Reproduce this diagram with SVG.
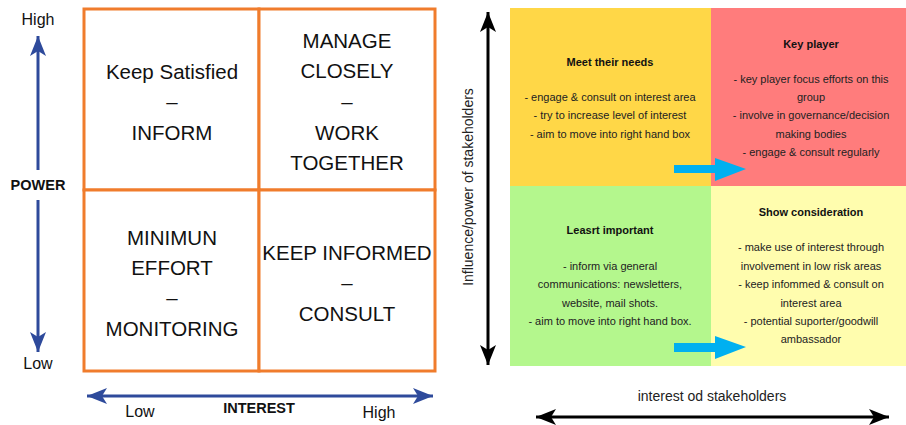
<svg xmlns="http://www.w3.org/2000/svg" width="906" height="425" viewBox="0 0 906 425">
<style>
.q{fill:#fff;stroke:#F07C2C;stroke-width:3}
.big{font-family:"Liberation Sans",Arial,sans-serif;font-size:20.5px;fill:#111;text-anchor:middle}
.ax{font-family:"Liberation Sans",Arial,sans-serif;font-size:16px;fill:#111;text-anchor:middle}
.axb{font-family:"Liberation Sans",Arial,sans-serif;font-size:14.5px;font-weight:bold;fill:#111;text-anchor:middle}
.sm{font-family:"Liberation Sans",Arial,sans-serif;font-size:11px;fill:#222;text-anchor:middle}
.smb{font-family:"Liberation Sans",Arial,sans-serif;font-size:11px;font-weight:bold;fill:#111;text-anchor:middle}
.lb{font-family:"Liberation Sans",Arial,sans-serif;font-size:14px;fill:#222;text-anchor:middle}
.blue{stroke:#2E4A9B;stroke-width:3;fill:none}
.blk{stroke:#000;stroke-width:3;fill:none}
</style>
<defs>
<marker id="hb" markerUnits="userSpaceOnUse" markerWidth="22" markerHeight="18" refX="20" refY="8" orient="auto-start-reverse"><path d="M0,0 L20,8 L0,16 L5,8 Z" fill="#2E4A9B"/></marker>
<marker id="hk" markerUnits="userSpaceOnUse" markerWidth="22" markerHeight="18" refX="20" refY="8" orient="auto-start-reverse"><path d="M0,0 L20,8 L0,16 L5,8 Z" fill="#000"/></marker>
</defs>
<rect width="906" height="425" fill="#fff"/>

<g id="left-grid">
<g id="keep-satisfied"><rect class="q" x="84" y="9" width="175" height="181"/>
<text class="big" x="172" y="79">Keep Satisfied</text><text class="big" x="172" y="109">–</text><text class="big" x="172" y="140">INFORM</text></g>
<g id="manage-closely"><rect class="q" x="259" y="9" width="176" height="181"/>
<text class="big" x="347" y="48">MANAGE</text><text class="big" x="347" y="78">CLOSELY</text><text class="big" x="347" y="109">–</text><text class="big" x="347" y="140">WORK</text><text class="big" x="347" y="170">TOGETHER</text></g>
<g id="minimum-effort"><rect class="q" x="84" y="190" width="175" height="181"/>
<text class="big" x="172" y="245">MINIMUN</text><text class="big" x="172" y="275">EFFORT</text><text class="big" x="172" y="305">–</text><text class="big" x="172" y="336">MONITORING</text></g>
<g id="keep-informed"><rect class="q" x="259" y="190" width="176" height="181"/>
<text class="big" x="347" y="260">KEEP INFORMED</text><text class="big" x="347" y="290">–</text><text class="big" x="347" y="321">CONSULT</text></g>
</g>

<g id="right-grid">
<g id="meet-needs"><rect x="510" y="8" width="201" height="178" fill="#FFD747"/>
<text class="smb" x="610" y="66">Meet their needs</text>
<text class="sm" x="610" y="101">- engage &amp; consult on interest area</text>
<text class="sm" x="610" y="119">- try to increase level of interest</text>
<text class="sm" x="610" y="138">- aim to move into right hand box</text></g>
<g id="key-player"><rect x="711" y="8" width="195" height="178" fill="#FF7C7C"/>
<text class="smb" x="811" y="48">Key player</text>
<text class="sm" x="811" y="83">- key player focus efforts on this</text>
<text class="sm" x="811" y="101">group</text>
<text class="sm" x="811" y="119">- involve in governance/decision</text>
<text class="sm" x="811" y="138">making bodies</text>
<text class="sm" x="811" y="156">- engage &amp; consult regularly</text></g>
<g id="least-important"><rect x="510" y="186" width="201" height="180" fill="#B4F78D"/>
<text class="smb" x="610" y="234">Leasrt important</text>
<text class="sm" x="610" y="270">- inform via general</text>
<text class="sm" x="610" y="288">communications: newsletters,</text>
<text class="sm" x="610" y="307">website, mail shots.</text>
<text class="sm" x="610" y="325">- aim to move into right hand box.</text></g>
<g id="show-consideration"><rect x="711" y="186" width="195" height="180" fill="#FFFDAE"/>
<text class="smb" x="811" y="216">Show consideration</text>
<text class="sm" x="811" y="251">- make use of interest through</text>
<text class="sm" x="811" y="270">involvement in low risk areas</text>
<text class="sm" x="811" y="288">- keep infommed &amp; consult on</text>
<text class="sm" x="811" y="307">interest area</text>
<text class="sm" x="811" y="325">- potential suporter/goodwill</text>
<text class="sm" x="811" y="343">ambassador</text></g>
</g>

<g id="connectors">
<line class="blue" x1="38" y1="170" x2="38" y2="36" marker-end="url(#hb)"/>
<line class="blue" x1="38" y1="200" x2="38" y2="352" marker-end="url(#hb)"/>
<line class="blue" x1="87" y1="396" x2="433" y2="396" marker-start="url(#hb)" marker-end="url(#hb)"/>
<line class="blk" x1="488" y1="12" x2="488" y2="365" marker-start="url(#hk)" marker-end="url(#hk)"/>
<line class="blk" x1="536" y1="417" x2="889" y2="417" marker-start="url(#hk)" marker-end="url(#hk)"/>
<polygon points="674,165 715,165 715,158 746,169 715,181 715,173 674,173" fill="#00B0F0"/>
<polygon points="674,343 715,343 715,336 746,347 715,359 715,352 674,352" fill="#00B0F0"/>
</g>

<g id="labels">
<text class="ax" x="38" y="25">High</text>
<text class="ax" x="38" y="369">Low</text>
<text class="axb" x="38" y="190">POWER</text>
<text class="ax" x="140" y="417">Low</text>
<text class="axb" x="259" y="413">INTEREST</text>
<text class="ax" x="379" y="418">High</text>
<text class="lb" x="712" y="401">interest od stakeholders</text>
<text class="lb" transform="translate(473,187) rotate(-90)" x="0" y="0">Influence/power of stakeholders</text>
</g>
</svg>
